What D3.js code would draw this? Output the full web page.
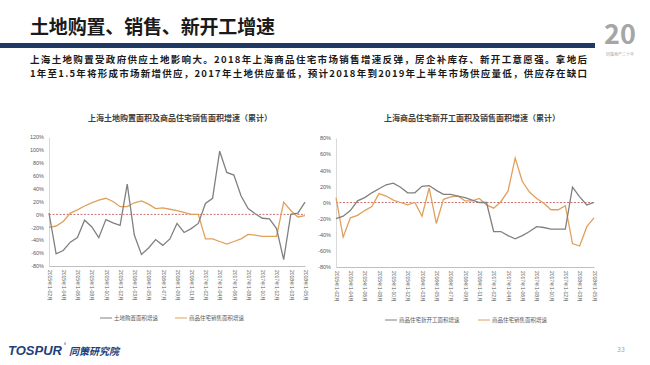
<!DOCTYPE html>
<html>
<head>
<meta charset="utf-8">
<script src="https://cdn.jsdelivr.net/npm/d3@7"></script>
<style>
body { margin: 0; background: #fff; }
svg { display: block; font-family: "Noto Sans CJK SC", "Noto Sans", sans-serif; }
</style>
</head>
<body>
<div id="chart"></div>
<script>
//months (cumulative, Jan-xx), one point per month
var categories = [
    "2015年1-02月", "2015年1-03月", "2015年1-04月", "2015年1-05月", "2015年1-06月", "2015年1-07月",
    "2015年1-08月", "2015年1-09月", "2015年1-10月", "2015年1-11月", "2015年1-12月",
    "2016年1-02月", "2016年1-03月", "2016年1-04月", "2016年1-05月", "2016年1-06月", "2016年1-07月",
    "2016年1-08月", "2016年1-09月", "2016年1-10月", "2016年1-11月", "2016年1-12月",
    "2017年1-02月", "2017年1-03月", "2017年1-04月", "2017年1-05月", "2017年1-06月", "2017年1-07月",
    "2017年1-08月", "2017年1-09月", "2017年1-10月", "2017年1-11月", "2017年1-12月",
    "2018年1-02月", "2018年1-03月", "2018年1-04月", "2018年1-05月"
];

//left chart series (%)
var landPurchase = [2, -61, -56, -43, -36, -9, -19, -36, -8, -13, -17,
    47, -32, -62, -52, -39, -48, -38, -14, -28, -22, -14,
    17, 25, 98, 65, 61, 29, 9, 1, -6, -7, -22,
    -70, 0, 2, 19];
var landSales = [-20, -18, -11, 2, 7, 13, 18, 22, 25, 20, 12,
    12, 18, 21, 16, 9, 10, 8, 6, 3, 0, 0,
    -38, -38, -42, -46, -42, -38, -31, -32, -34, -34, -34,
    19, 6, -4, -2];

//right chart series (%)
var newStarts = [-20, -17, -10, 2, 6, 12, 17, 22, 24, 19, 12,
    12, 20, 21, 15, 10, 10, 8, 6, 3, 0, 0,
    -36, -36, -41, -45, -41, -36, -30, -31, -33, -33, -33,
    19, 7, -3, 0];
var housingSales = [6, -43, -19, -16, -10, -5, 11, 8, 3, 0, -3,
    0, -17, 18, -26, 4, 7, 8, 2, 2, 5, -3,
    -7, 1, 14, 55, 26, 13, 5, -1, -9, -9, -4,
    -51, -54, -30, -19];

//tick labels
var leftTicks = [-80, -60, -40, -20, 0, 20, 40, 60, 80, 100, 120];
var rightTicks = [-80, -60, -40, -20, 0, 20, 40, 60, 80];
var tickCategories = categories.filter(function(d, i) { return i % 2 === 0; });

var leftLegend = ["土地购置面积增速", "商品住宅销售面积增速"];
var rightLegend = ["商品住宅新开工面积增速", "商品住宅销售面积增速"];

var commentary = [
    "上海土地购置受政府供应土地影响大。2018年上海商品住宅市场销售增速反弹，房企补库存、新开工意愿强。拿地后",
    "1年至1.5年将形成市场新增供应，2017年土地供应量低，预计2018年到2019年上半年市场供应量低，供应存在缺口"
];

var grey = "#808080";
var orange = "#e0a05c";

var w = 650;
var h = 365;

var svg = d3.select("#chart")
        .append("svg")
        .attr("width", w)
        .attr("height", h);

//slide header
svg.append("text")
    .attr("x", 30)
    .attr("y", 34)
    .attr("font-size", 19)
    .attr("font-weight", "bold")
    .attr("fill", "#1a1a1a")
    .attr("textLength", 245)
    .text("土地购置、销售、新开工增速");

svg.append("rect")
    .attr("x", 0)
    .attr("y", 43)
    .attr("width", 595)
    .attr("height", 5)
    .attr("fill", "#1f3864");

//two lines of commentary, stretched to the same width
commentary.forEach(function(d, i) {
    svg.append("text")
        .attr("x", 30)
        .attr("y", 63 + i * 13.5)
        .attr("font-size", 9.5)
        .attr("font-weight", "bold")
        .attr("fill", "#1a1a1a")
        .attr("textLength", 557)
        .attr("lengthAdjust", "spacing")
        .text(d);
});

//"20" anniversary mark
svg.append("text")
    .attr("x", 620)
    .attr("y", 44)
    .attr("text-anchor", "middle")
    .attr("font-size", 27)
    .attr("font-weight", "bold")
    .attr("fill", "#a6a6a6")
    .text("20");
svg.append("text")
    .attr("x", 620)
    .attr("y", 56)
    .attr("text-anchor", "middle")
    .attr("font-size", 4)
    .attr("fill", "#a6a6a6")
    .text("同策地产二十年");

//footer
svg.append("text")
    .attr("x", 8)
    .attr("y", 355)
    .attr("font-size", 13)
    .attr("font-weight", "bold")
    .attr("font-style", "italic")
    .attr("fill", "#1f3f7a")
    .attr("font-family", "Liberation Sans, sans-serif")
    .text("TOSPUR");
svg.append("text")
    .attr("x", 64)
    .attr("y", 346)
    .attr("font-size", 4)
    .attr("fill", "#1f3f7a")
    .text("®");
svg.append("text")
    .attr("x", 69)
    .attr("y", 355)
    .attr("font-size", 10)
    .attr("font-weight", "bold")
    .attr("font-style", "italic")
    .attr("fill", "#1f3f7a")
    .text("同策研究院");
svg.append("text")
    .attr("x", 617)
    .attr("y", 352)
    .attr("font-size", 7)
    .attr("fill", "#a6a6a6")
    .text("33");

function lineChart(o) {
    var g = svg.append("g");

    //setting up the scales
    var xScale = d3.scalePoint()
        .domain(categories)
        .range([o.left, o.right]);

    var yScale = d3.scaleLinear()
        .domain([o.ticks[0], o.ticks[o.ticks.length - 1]])
        .range([o.bottom, o.top]);

    //chart title
    g.append("text")
        .attr("x", o.titleX)
        .attr("y", 121)
        .attr("text-anchor", "middle")
        .attr("font-size", 8)
        .attr("font-weight", "bold")
        .attr("fill", "#404040")
        .text(o.title);

    //y axis
    var yAxis = d3.axisLeft(yScale)
        .tickValues(o.ticks)
        .tickSize(0)
        .tickPadding(5)
        .tickFormat(function(d) { return d + "%"; });

    var gy = g.append("g")
        .attr("transform", "translate(" + o.left + ",0)")
        .call(yAxis);
    gy.select(".domain").attr("stroke", "#d9d9d9");
    gy.selectAll("text")
        .attr("font-size", 5.5)
        .attr("font-family", null)
        .attr("fill", "#595959");

    //x axis, rotated labels every other month
    var xAxis = d3.axisBottom(xScale)
        .tickValues(tickCategories)
        .tickSize(0)
        .tickSizeOuter(0);

    var gx = g.append("g")
        .attr("transform", "translate(0," + o.bottom + ")")
        .call(xAxis);
    gx.select(".domain").attr("stroke", "#bfbfbf").attr("stroke-width", 1.2);
    gx.selectAll("text")
        .attr("transform", "rotate(90)")
        .attr("x", 4)
        .attr("y", 0)
        .attr("dy", "0.35em")
        .attr("text-anchor", "start")
        .attr("font-size", 5)
        .attr("font-family", null)
        .attr("fill", "#595959");

    //zero line
    g.append("line")
        .attr("x1", o.left)
        .attr("x2", o.right)
        .attr("y1", yScale(0))
        .attr("y2", yScale(0))
        .attr("stroke", "#c0504d")
        .attr("stroke-width", 0.8)
        .attr("stroke-dasharray", "2,1.5");

    var line = d3.line()
        .x(function(d, i) { return xScale(categories[i]); })
        .y(function(d) { return yScale(d); });

    //orange first, grey on top
    g.append("path")
        .datum(o.series[1])
        .attr("d", line)
        .attr("fill", "none")
        .attr("stroke", orange)
        .attr("stroke-width", 1.3);

    g.append("path")
        .datum(o.series[0])
        .attr("d", line)
        .attr("fill", "none")
        .attr("stroke", grey)
        .attr("stroke-width", 1.3);

    //legend
    var colours = [grey, orange];
    o.legend.forEach(function(name, i) {
        g.append("line")
            .attr("x1", o.legendX[i])
            .attr("x2", o.legendX[i] + 12)
            .attr("y1", o.legendY)
            .attr("y2", o.legendY)
            .attr("stroke", colours[i])
            .attr("stroke-width", 1);
        g.append("text")
            .attr("x", o.legendX[i] + 14)
            .attr("y", o.legendY)
            .attr("dy", "0.35em")
            .attr("font-size", 5.5)
            .attr("fill", "#595959")
            .text(name);
    });
}

lineChart({
    left: 49, right: 305, top: 137, bottom: 266,
    ticks: leftTicks,
    title: "上海土地购置面积及商品住宅销售面积增速（累计）",
    titleX: 180,
    series: [landPurchase, landSales],
    legend: leftLegend,
    legendX: [100, 175],
    legendY: 318
});

lineChart({
    left: 336, right: 594, top: 138, bottom: 267,
    ticks: rightTicks,
    title: "上海商品住宅新开工面积及销售面积增速（累计）",
    titleX: 472,
    series: [newStarts, housingSales],
    legend: rightLegend,
    legendX: [385, 478],
    legendY: 320
});
</script>
</body>
</html>
